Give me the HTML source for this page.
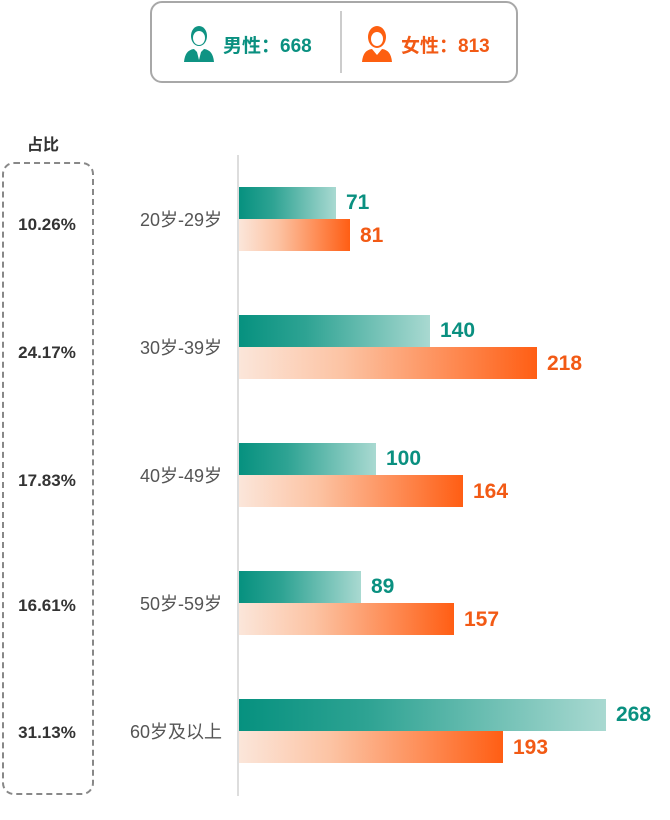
<!DOCTYPE html>
<html><head><meta charset="utf-8"><style>
body{margin:0;width:670px;height:820px;background:#fff;font-family:"Liberation Sans","Noto Sans CJK SC",sans-serif;position:relative;overflow:hidden}
.a{position:absolute}
.hdr{left:150px;top:1px;width:364px;height:78px;border:2px solid #a8a8a8;border-radius:12px}
.pct{left:2px;width:90px;text-align:center;font-weight:bold;font-size:17px;color:#333}
.lab{left:100px;width:122px;text-align:right;font-size:18px;color:#555}
.bt{left:239px;height:32px;background:linear-gradient(90deg,#06917f 0%,#2ea393 35%,#a9d9d1 100%)}
.bo{left:239px;height:32px;background:linear-gradient(90deg,#fbe6da 0%,#fcc3a3 35%,#ff5e14 100%)}
.vt{font-weight:bold;font-size:21px;color:#0a9080}
.vo{font-weight:bold;font-size:21px;color:#f25a15}
</style></head><body>
<div class="a hdr"></div>
<div class="a" style="left:340px;top:11px;width:2px;height:62px;background:#ccc"></div>
<svg class="a" style="left:182px;top:24px" width="34" height="40" viewBox="0 0 34 40">
<ellipse cx="17" cy="12" rx="8" ry="10" fill="#0f9383"/><ellipse cx="17" cy="14" rx="6" ry="7" fill="#fff"/>
<path d="M2 38 Q3 26 12 25 L17 30 L22 25 Q31 26 32 38 Z" fill="#0f9383"/><path d="M15 28 L17 36 L19 28Z" fill="#fff"/></svg>
<div class="a vt" style="left:223px;top:31px;font-size:19px">男性：668</div>
<svg class="a" style="left:360px;top:24px" width="34" height="40" viewBox="0 0 34 40">
<ellipse cx="17" cy="13" rx="9" ry="11" fill="#fd5f10"/><ellipse cx="17" cy="15" rx="6" ry="7" fill="#fff"/>
<path d="M2 38 Q3 26 12 25 L17 31 L22 25 Q31 26 32 38 Z" fill="#fd5f10"/></svg>
<div class="a vo" style="left:401px;top:31px;font-size:19px">女性：813</div>

<div class="a" style="left:27px;top:131px;font-weight:bold;font-size:16px;color:#333">占比</div>
<div class="a" style="left:2px;top:162px;width:88px;height:629px;border:2px dashed #888;border-radius:12px"></div>
<div class="a" style="left:237px;top:155px;width:2px;height:641px;background:#ddd"></div>

<div class="a pct" style="top:215px">10.26%</div>
<div class="a pct" style="top:343px">24.17%</div>
<div class="a pct" style="top:471px">17.83%</div>
<div class="a pct" style="top:596px">16.61%</div>
<div class="a pct" style="top:723px">31.13%</div>

<div class="a lab" style="top:206px">20岁-29岁</div>
<div class="a lab" style="top:334px">30岁-39岁</div>
<div class="a lab" style="top:462px">40岁-49岁</div>
<div class="a lab" style="top:590px">50岁-59岁</div>
<div class="a lab" style="top:718px">60岁及以上</div>

<div class="a bt" style="top:187px;width:97px"></div><div class="a vt" style="left:346px;top:191px">71</div>
<div class="a bo" style="top:219px;width:111px"></div><div class="a vo" style="left:360px;top:224px">81</div>

<div class="a bt" style="top:315px;width:191px"></div><div class="a vt" style="left:440px;top:319px">140</div>
<div class="a bo" style="top:347px;width:298px"></div><div class="a vo" style="left:547px;top:352px">218</div>

<div class="a bt" style="top:443px;width:137px"></div><div class="a vt" style="left:386px;top:447px">100</div>
<div class="a bo" style="top:475px;width:224px"></div><div class="a vo" style="left:473px;top:480px">164</div>

<div class="a bt" style="top:571px;width:122px"></div><div class="a vt" style="left:371px;top:575px">89</div>
<div class="a bo" style="top:603px;width:215px"></div><div class="a vo" style="left:464px;top:608px">157</div>

<div class="a bt" style="top:699px;width:367px"></div><div class="a vt" style="left:616px;top:703px">268</div>
<div class="a bo" style="top:731px;width:264px"></div><div class="a vo" style="left:513px;top:736px">193</div>
</body></html>
